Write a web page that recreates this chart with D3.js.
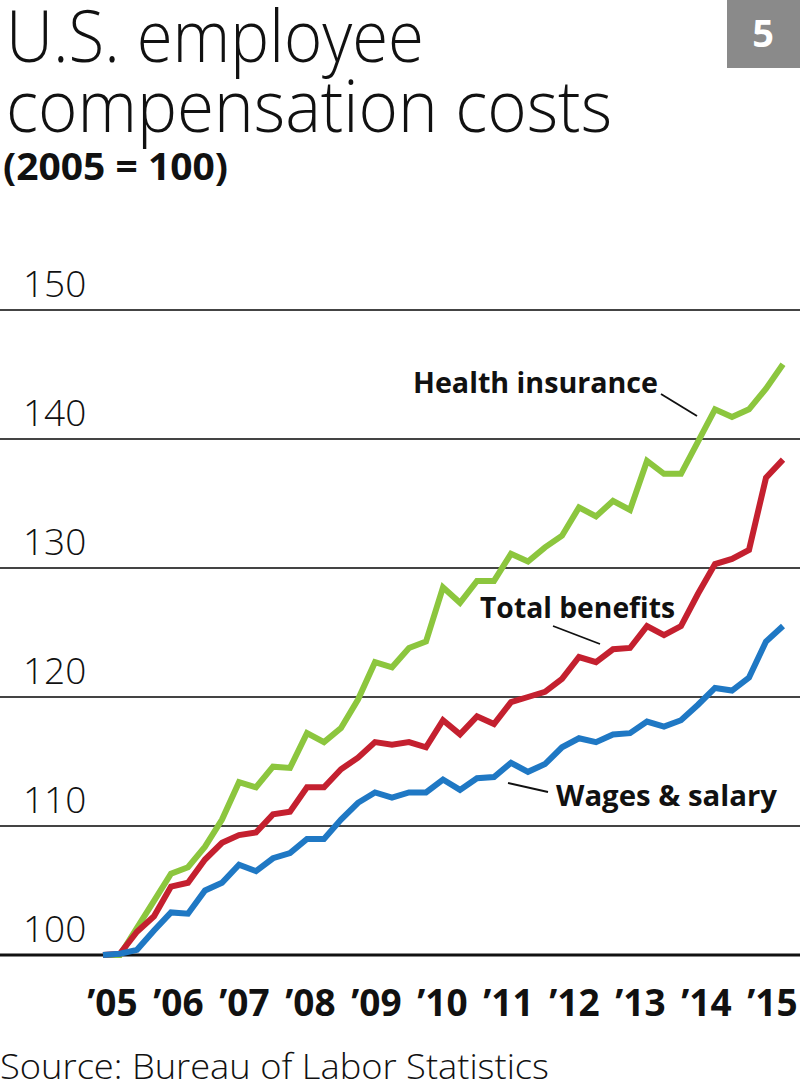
<!DOCTYPE html>
<html>
<head>
<meta charset="utf-8">
<script src="https://cdn.jsdelivr.net/npm/d3@7"></script>
<style>
  body { margin: 0; background: #fff; }
  text { font-family: "Open Sans", "Lato", sans-serif; }
</style>
</head>
<body>
<div id="chart"></div>
<script>
var svgWidth = 800;
var svgHeight = 1088;

// quarterly index values, 2005 Q1 .. 2015 Q1
var quarters = ["2005 Q1","2005 Q2","2005 Q3","2005 Q4","2006 Q1","2006 Q2","2006 Q3","2006 Q4",
  "2007 Q1","2007 Q2","2007 Q3","2007 Q4","2008 Q1","2008 Q2","2008 Q3","2008 Q4",
  "2009 Q1","2009 Q2","2009 Q3","2009 Q4","2010 Q1","2010 Q2","2010 Q3","2010 Q4",
  "2011 Q1","2011 Q2","2011 Q3","2011 Q4","2012 Q1","2012 Q2","2012 Q3","2012 Q4",
  "2013 Q1","2013 Q2","2013 Q3","2013 Q4","2014 Q1","2014 Q2","2014 Q3","2014 Q4","2015 Q1"];

var healthInsurance = [100, 100, 102.1, 104.2, 106.3, 106.8, 108.4, 110.5, 113.4, 113.0,
  114.6, 114.5, 117.2, 116.5, 117.6, 119.8, 122.7, 122.3, 123.8, 124.3,
  128.5, 127.3, 129.0, 129.0, 131.1, 130.5, 131.6, 132.5, 134.7, 134.0,
  135.2, 134.5, 138.3, 137.3, 137.3, 139.8, 142.3, 141.7, 142.3, 143.9, 145.8];

var totalBenefits = [100, 100.1, 101.8, 103.0, 105.3, 105.6, 107.4, 108.7, 109.3, 109.5,
  110.9, 111.1, 113.0, 113.0, 114.4, 115.3, 116.5, 116.3, 116.5, 116.1,
  118.2, 117.1, 118.5, 117.9, 119.6, 120.0, 120.4, 121.4, 123.1, 122.7,
  123.7, 123.8, 125.5, 124.8, 125.5, 128.0, 130.3, 130.7, 131.4, 137.0, 138.4];

var wagesSalary = [100, 100.1, 100.4, 101.9, 103.3, 103.2, 105.0, 105.6, 107.0, 106.5,
  107.5, 107.9, 109.0, 109.0, 110.5, 111.8, 112.6, 112.2, 112.6, 112.6,
  113.6, 112.8, 113.7, 113.8, 114.9, 114.2, 114.8, 116.1, 116.8, 116.5,
  117.1, 117.2, 118.1, 117.7, 118.2, 119.4, 120.7, 120.5, 121.5, 124.3, 125.5];

var yTicks = [100, 110, 120, 130, 140, 150];
var yearLabels = ["\u201905", "\u201906", "\u201907", "\u201908", "\u201909", "\u201910",
  "\u201911", "\u201912", "\u201913", "\u201914", "\u201915"];

var seriesNames = ["Health insurance", "Total benefits", "Wages & salary"];
var seriesColors = ["#8cc63e", "#c4202f", "#1f78c4"];

var svg = d3.select("#chart")
  .append("svg")
  .attr("width", svgWidth)
  .attr("height", svgHeight);

var xScale = d3.scaleLinear()
  .domain([0, quarters.length - 1])
  .range([103, 783]);

var yScale = d3.scaleLinear()
  .domain([100, 150])
  .range([955, 310]);

// gridlines + tick labels
var grid = svg.append("g");
grid.selectAll("line")
  .data(yTicks)
  .enter()
  .append("line")
  .attr("x1", 0)
  .attr("x2", svgWidth)
  .attr("y1", d => yScale(d))
  .attr("y2", d => yScale(d))
  .attr("stroke", d => d === 100 ? "#111" : "#444")
  .attr("stroke-width", d => d === 100 ? 3 : 1.8);

grid.selectAll("text")
  .data(yTicks)
  .enter()
  .append("text")
  .attr("x", 23)
  .attr("y", d => yScale(d) - 13)
  .attr("font-size", 37)
  .attr("font-weight", 300)
  .attr("fill", "#111")
  .text(d => d);

// x labels
var xLabel = d3.scalePoint()
  .domain(yearLabels)
  .range([xScale(0) + 9, xScale(40) - 11]);

var xAxis = d3.axisBottom(xLabel).tickSize(0).tickPadding(0);
var xg = svg.append("g")
  .attr("transform", "translate(0, 986)")
  .call(xAxis);
xg.select(".domain").remove();
xg.selectAll("text")
  .attr("font-family", "'Open Sans', sans-serif")
  .attr("font-size", 37)
  .attr("font-weight", 700)
  .attr("fill", "#111")
  .attr("dy", "0.8em");

// lines
var line = d3.line()
  .x((d, i) => xScale(i))
  .y(d => yScale(d));

var allSeries = [healthInsurance, totalBenefits, wagesSalary];
svg.append("g")
  .selectAll("path")
  .data(allSeries)
  .enter()
  .append("path")
  .attr("d", line)
  .attr("fill", "none")
  .attr("stroke", (d, i) => seriesColors[i])
  .attr("stroke-width", 6)
  .attr("stroke-linejoin", "miter");

// series labels with leader lines
var labelSpots = [
  { x: 413, y: 393, w: 245, lx1: 661, ly1: 394, lx2: 697, ly2: 416 },
  { x: 480, y: 618, w: 195, lx1: 553, ly1: 626, lx2: 600, ly2: 644 },
  { x: 556, y: 806, w: 221, lx1: 508, ly1: 783, lx2: 548, ly2: 792 }
];

labelSpots.forEach(function(s, i) {
  svg.append("text")
    .attr("x", s.x)
    .attr("y", s.y)
    .attr("font-size", 28)
    .attr("font-weight", 700)
    .attr("fill", "#111")
    .attr("textLength", s.w)
    .attr("lengthAdjust", "spacingAndGlyphs")
    .text(seriesNames[i]);
  svg.append("line")
    .attr("x1", s.lx1).attr("y1", s.ly1)
    .attr("x2", s.lx2).attr("y2", s.ly2)
    .attr("stroke", "#111")
    .attr("stroke-width", 1.8);
});

// title
svg.append("text")
  .attr("x", 6).attr("y", 62)
  .attr("font-size", 72).attr("font-weight", 300).attr("fill", "#111")
  .attr("textLength", 418).attr("lengthAdjust", "spacingAndGlyphs")
  .text("U.S. employee");

svg.append("text")
  .attr("x", 6).attr("y", 132)
  .attr("font-size", 72).attr("font-weight", 300).attr("fill", "#111")
  .attr("textLength", 606).attr("lengthAdjust", "spacingAndGlyphs")
  .text("compensation costs");

svg.append("text")
  .attr("x", 3).attr("y", 180)
  .attr("font-size", 38).attr("font-weight", 700).attr("fill", "#111")
  .attr("textLength", 225).attr("lengthAdjust", "spacingAndGlyphs")
  .text("(2005 = 100)");

// badge
svg.append("rect")
  .attr("x", 727).attr("y", 0)
  .attr("width", 73).attr("height", 68)
  .attr("fill", "#8a8a8a");

svg.append("text")
  .attr("x", 763).attr("y", 47)
  .attr("text-anchor", "middle")
  .attr("font-size", 38).attr("font-weight", 700).attr("fill", "#fff")
  .text("5");

// source
svg.append("text")
  .attr("x", 0).attr("y", 1079)
  .attr("font-size", 34).attr("font-weight", 300).attr("fill", "#111")
  .attr("textLength", 549).attr("lengthAdjust", "spacingAndGlyphs")
  .text("Source: Bureau of Labor Statistics");
</script>
</body>
</html>
